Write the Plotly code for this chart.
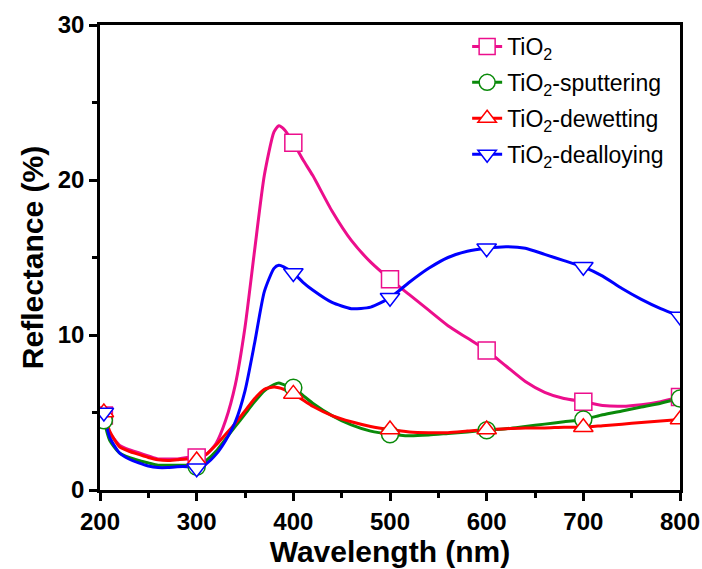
import plotly.graph_objects as go

wavelength = [204, 210, 220, 230, 240, 250, 260, 270, 280, 290, 300, 310, 320, 330, 340, 350,
              360, 370, 380, 385, 390, 400, 410, 420, 440, 460, 480, 500, 520, 540, 560, 580,
              600, 620, 640, 660, 680, 700, 720, 740, 760, 780, 800]

tio2 = [4.8, 3.7, 2.9, 2.6, 2.4, 2.2, 2.0, 2.0, 2.0, 2.1, 2.1, 2.3, 3.0, 4.5, 6.8, 10.5,
        15.5, 20.3, 23.1, 23.5, 23.3, 22.4, 21.3, 20.3, 18.0, 16.1, 14.7, 13.6, 12.6, 11.6, 10.6, 9.8,
        9.0, 8.0, 7.0, 6.3, 5.9, 5.7, 5.45, 5.4, 5.5, 5.7, 6.0]

sputtering = [4.5, 3.2, 2.4, 2.1, 1.9, 1.75, 1.6, 1.6, 1.6, 1.6, 1.5, 1.9, 2.5, 3.3, 4.1, 4.9,
              5.7, 6.4, 6.8, 6.9, 6.8, 6.6, 6.1, 5.6, 4.8, 4.2, 3.8, 3.6, 3.5, 3.55, 3.65, 3.75,
              3.85, 3.95, 4.1, 4.25, 4.4, 4.55, 4.85, 5.1, 5.35, 5.6, 5.9]

dewetting = [5.0, 3.8, 2.8, 2.5, 2.3, 2.1, 1.95, 1.9, 1.95, 2.0, 1.9, 2.3, 2.9, 3.6, 4.3, 5.1,
             5.9, 6.5, 6.65, 6.6, 6.5, 6.2, 5.8, 5.4, 4.8, 4.4, 4.1, 3.9, 3.75, 3.7, 3.7, 3.8,
             3.9, 3.95, 4.0, 4.0, 4.05, 4.05, 4.15, 4.25, 4.35, 4.45, 4.55]

dealloying = [5.0, 3.4, 2.4, 2.0, 1.75, 1.55, 1.45, 1.45, 1.5, 1.5, 1.4, 1.7, 2.3, 3.2, 4.4, 6.4,
              9.5, 12.8, 14.3, 14.5, 14.4, 14.0, 13.4, 12.9, 12.1, 11.7, 11.8, 12.4, 13.4, 14.3, 15.0, 15.4,
              15.6, 15.7, 15.6, 15.2, 14.8, 14.4, 13.8, 13.0, 12.3, 11.7, 11.2]

marker_wavelength = [204, 300, 400, 500, 600, 700, 800]

series_names = ["TiO<sub>2</sub>", "TiO<sub>2</sub>-sputtering", "TiO<sub>2</sub>-dewetting",
                "TiO<sub>2</sub>-dealloying"]
series_values = [tio2, sputtering, dewetting, dealloying]
colors = ["#EC0E8C", "#0A8A0A", "#FF0000", "#0000FF"]
symbols = ["square", "circle", "triangle-up", "triangle-down"]

FONT = "Liberation Sans, Arial, sans-serif"

fig = go.Figure()
for name, vals, col, sym in zip(series_names, series_values, colors, symbols):
    fig.add_trace(go.Scatter(x=wavelength, y=vals, mode="lines",
                             line=dict(color=col, width=3, shape="spline", smoothing=0.6),
                             showlegend=False, hoverinfo="skip"))
for name, vals, col, sym in zip(series_names, series_values, colors, symbols):
    my = [vals[wavelength.index(w)] for w in marker_wavelength]
    fig.add_trace(go.Scatter(x=marker_wavelength, y=my, mode="markers",
                             marker=dict(symbol=sym, size=17, color="white",
                                         line=dict(color=col, width=1.5)),
                             showlegend=False))
for i, (name, vals, col, sym) in enumerate(zip(series_names, series_values, colors, symbols)):
    fig.add_trace(go.Scatter(x=[None], y=[None], mode="lines+markers", name=name,
                             legendgroup="g%d" % i,
                             line=dict(color=col, width=3),
                             marker=dict(symbol=sym, size=17, color="white",
                                         line=dict(color=col, width=1.5))))

axis_common = dict(showline=True, linecolor="black", linewidth=2.5, mirror=True,
                   ticks="outside", ticklen=8, tickwidth=2.5, tickcolor="black",
                   showgrid=False, zeroline=False, automargin=False,
                   tickfont=dict(family=FONT, size=24, color="black", weight="bold"))

fig.update_xaxes(range=[200, 800], dtick=100, tick0=200,
                 minor=dict(ticks="outside", ticklen=5, tickwidth=2.5, dtick=50, tickcolor="black"),
                 title=dict(text="<b>Wavelength (nm)</b>", standoff=8,
                            font=dict(family=FONT, size=30, color="black")),
                 **axis_common)
fig.update_yaxes(range=[0, 30], dtick=10, tick0=0,
                 minor=dict(ticks="outside", ticklen=5, tickwidth=2.5, dtick=5, tickcolor="black"),
                 title=dict(text="<b>Reflectance (%)</b>", standoff=6,
                            font=dict(family=FONT, size=30, color="black")),
                 **axis_common)

fig.update_layout(
    width=702, height=569,
    margin=dict(l=100, r=22, t=25, b=79),
    plot_bgcolor="white", paper_bgcolor="white",
    font=dict(family=FONT, color="black"),
    legend=dict(x=0.633, y=1.0, xanchor="left", yanchor="top",
                bgcolor="rgba(0,0,0,0)", borderwidth=0, tracegroupgap=3,
                font=dict(family=FONT, size=23, color="black")),
)

fig.write_html("out.html",
               config={"displayModeBar": False},
               post_script="document.body.style.margin='0';"
                           "document.documentElement.style.overflow='hidden';")
